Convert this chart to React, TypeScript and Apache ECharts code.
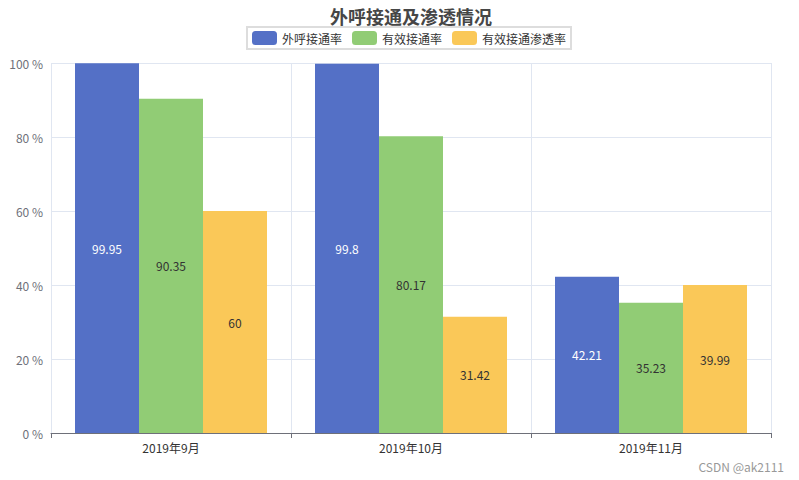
import React, { useEffect, useRef } from "react";
import * as echarts from "echarts";

const categories = ["2019年9月", "2019年10月", "2019年11月"];
const seriesNames = ["外呼接通率", "有效接通率", "有效接通渗透率"];
const callRate = [99.95, 99.8, 42.21];
const validRate = [90.35, 80.17, 35.23];
const penetrationRate = [60, 31.42, 39.99];
const colors = ["#5470c6", "#91cc75", "#fac858"];
const labelColors = ["#fff", "#333", "#333"];

const FONT = "'Microsoft YaHei', 'Noto Sans CJK SC', sans-serif";

export default function App() {
  const ref = useRef<HTMLDivElement>(null);
  useEffect(() => {
    if (!ref.current) return;
    const chart = echarts.init(ref.current, null, { renderer: "svg" });
    const values = [callRate, validRate, penetrationRate];
    chart.setOption({
      animation: false,
      textStyle: { fontFamily: FONT },
      color: colors,
      title: {
        text: "外呼接通及渗透情况",
        left: 325,
        top: 2,
        textStyle: { fontSize: 18, fontWeight: "bold", color: "#464646", fontFamily: FONT },
      },
      legend: {
        top: 27,
        left: 247,
        data: seriesNames,
        borderColor: "#ddd",
        borderWidth: 2,
        padding: [4, 5],
        itemWidth: 25,
        itemHeight: 14,
        itemGap: 10,
        textStyle: { fontSize: 12, color: "#333", fontFamily: FONT },
      },
      grid: { left: 51, right: 28, top: 63, bottom: 47 },
      xAxis: {
        type: "category",
        data: categories,
        axisLine: { lineStyle: { color: "#6e7079" } },
        axisTick: { show: true, alignWithLabel: false },
        axisLabel: { color: "#333", fontSize: 12, fontFamily: FONT },
        splitLine: { show: true, lineStyle: { color: "#e0e6f1" } },
      },
      yAxis: {
        type: "value",
        min: 0,
        max: 100,
        interval: 20,
        axisLabel: { formatter: "{value} %", color: "#6e7079", fontSize: 12, fontFamily: FONT },
        axisLine: { show: false },
        splitLine: { lineStyle: { color: "#e0e6f1" } },
      },
      series: seriesNames.map((name, i) => ({
        name,
        type: "bar",
        data: values[i],
        barGap: "0%",
        barCategoryGap: "20%",
        label: {
          show: true,
          position: "inside",
          color: labelColors[i],
          fontSize: 12,
          fontFamily: FONT,
        },
      })),
      graphic: [
        {
          type: "text",
          right: 15,
          bottom: 8,
          style: { text: "CSDN @ak2111", fill: "#999", fontSize: 12, fontFamily: FONT },
        },
      ],
    });
    return () => chart.dispose();
  }, []);
  return <div ref={ref} style={{ width: 799, height: 480, position: "absolute", left: 0, top: 0 }} />;
}
